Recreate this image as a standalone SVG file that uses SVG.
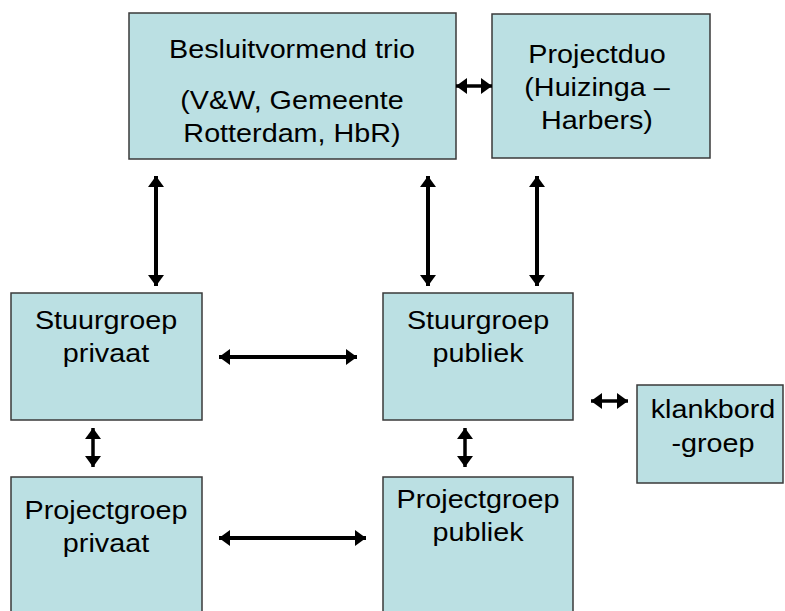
<svg xmlns="http://www.w3.org/2000/svg" width="785" height="611" viewBox="0 0 785 611">
<style>
.box{fill:#BBE0E3;stroke:#3a3a3a;stroke-width:1.5}
.t{font-family:"Liberation Sans",Arial,sans-serif;font-size:25px;fill:#000;text-anchor:middle}
.c{stroke:#000;stroke-width:4;fill:none;marker-start:url(#ah);marker-end:url(#ah)}
</style>
<defs>
<marker id="ah" markerUnits="userSpaceOnUse" markerWidth="12" markerHeight="18" refX="11" refY="8" orient="auto-start-reverse" viewBox="0 0 12 16">
<path d="M0,0 L11,8 L0,16 z" fill="#000"/>
</marker>
</defs>
<rect width="785" height="611" fill="#fff"/>
<g id="trio">
<rect class="box" x="129" y="13" width="327" height="146"/>
<text class="t" transform="translate(292,58) scale(1.15,1)">Besluitvormend trio</text>
<text class="t" transform="translate(292,109) scale(1.15,1)">(V&amp;W, Gemeente</text>
<text class="t" transform="translate(292,142) scale(1.15,1)">Rotterdam, HbR)</text>
</g>
<g id="duo">
<rect class="box" x="492" y="14" width="218" height="144"/>
<text class="t" transform="translate(597,63) scale(1.15,1)">Projectduo</text>
<text class="t" transform="translate(597,96) scale(1.15,1)">(Huizinga –</text>
<text class="t" transform="translate(597,129) scale(1.15,1)">Harbers)</text>
</g>
<g id="sg-privaat">
<rect class="box" x="11" y="293" width="191" height="127"/>
<text class="t" transform="translate(106,329) scale(1.15,1)">Stuurgroep</text>
<text class="t" transform="translate(106,362) scale(1.15,1)">privaat</text>
</g>
<g id="sg-publiek">
<rect class="box" x="383" y="293" width="190" height="127"/>
<text class="t" transform="translate(478,329) scale(1.15,1)">Stuurgroep</text>
<text class="t" transform="translate(478,362) scale(1.15,1)">publiek</text>
</g>
<g id="klankbord">
<rect class="box" x="637" y="385" width="146" height="98"/>
<text class="t" transform="translate(713,418) scale(1.15,1)">klankbord</text>
<text class="t" transform="translate(713,452) scale(1.15,1)">-groep</text>
</g>
<g id="pg-privaat">
<rect class="box" x="11" y="477" width="191" height="140"/>
<text class="t" transform="translate(106,519) scale(1.15,1)">Projectgroep</text>
<text class="t" transform="translate(106,552) scale(1.15,1)">privaat</text>
</g>
<g id="pg-publiek">
<rect class="box" x="383" y="477" width="190" height="140"/>
<text class="t" transform="translate(478,508) scale(1.15,1)">Projectgroep</text>
<text class="t" transform="translate(478,541) scale(1.15,1)">publiek</text>
</g>
<g id="connectors">
<line class="c" x1="456" y1="86" x2="492" y2="86" style="stroke-width:3.5"/>
<line class="c" x1="156" y1="176" x2="156" y2="286"/>
<line class="c" x1="428" y1="176" x2="428" y2="286"/>
<line class="c" x1="537" y1="176" x2="537" y2="286"/>
<line class="c" x1="219" y1="357" x2="357" y2="357"/>
<line class="c" x1="591" y1="401" x2="628" y2="401" style="stroke-width:3.5"/>
<line class="c" x1="93" y1="428" x2="93" y2="467" style="stroke-width:3.5"/>
<line class="c" x1="465" y1="428" x2="465" y2="467" style="stroke-width:3.5"/>
<line class="c" x1="219" y1="538" x2="366" y2="538"/>
</g>
</svg>
